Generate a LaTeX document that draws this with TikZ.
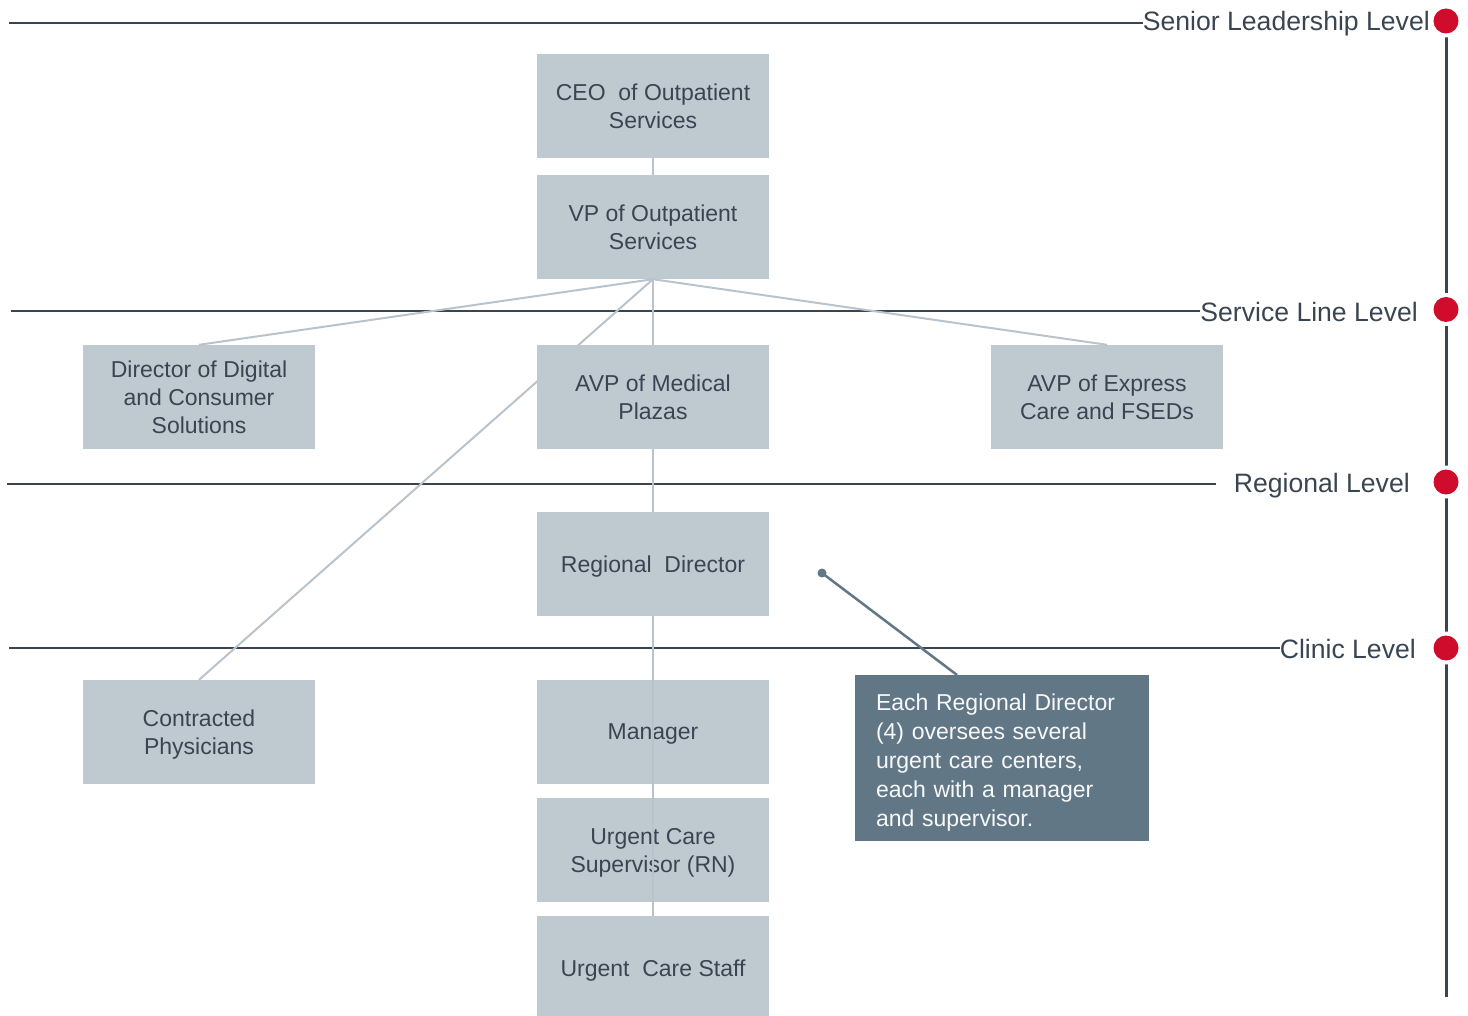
\documentclass[tikz,border=0pt]{standalone}
\usepackage{fontspec}
\setmainfont{Liberation Sans}
\definecolor{boxfill}{HTML}{BFC9D0}
\definecolor{connc}{HTML}{B8C3CC}
\definecolor{txtc}{HTML}{3A4552}
\definecolor{levc}{HTML}{3B4550}
\definecolor{dotred}{HTML}{D00C2C}
\definecolor{callc}{HTML}{627786}
\begin{document}
\begin{tikzpicture}[x=1pt,y=-1pt,
  orgbox/.style={fill=boxfill, draw=none, minimum width=232pt, minimum height=104pt,
    align=center, text=txtc, font=\fontsize{23}{28}\selectfont, inner sep=0pt, text depth=0pt},
  conn/.style={draw=connc, line width=2pt},
  levline/.style={draw=levc, line width=2.2pt},
  levlabel/.style={anchor=base east, inner sep=0pt, text=txtc, font=\fontsize{26.6}{30}\selectfont},
  leveldot/.style={circle, fill=dotred, minimum size=25pt, inner sep=0pt},
  dotgap/.style={circle, fill=white, minimum size=33pt, inner sep=0pt}
]
\useasboundingbox (0,0) rectangle (1468,1016);

% level labels
\node[levlabel] (lab1) at (1430,31) {Senior Leadership Level};
\node[levlabel] (lab2) at (1418,322) {Service Line Level};
\node[levlabel] (lab3) at (1410,492) {Regional Level};
\node[levlabel] (lab4) at (1416,658) {Clinic Level};

% level lines
\coordinate (l1s) at (9,23);
\coordinate (l2s) at (11,311);
\coordinate (l3s) at (7,484);  \coordinate (l3e) at (1216,484);
\coordinate (l4s) at (9,648);
\draw[levline] (l1s) -- (l1s -| lab1.west);
\draw[levline] (l2s) -- (l2s -| lab2.west);
\draw[levline] (l3s) -- (l3e);
\draw[levline] (l4s) -- (l4s -| lab4.west);

% timeline
\coordinate (vtop) at (1446.5,21);
\coordinate (vbot) at (1446.5,997);
\draw[levline] (vtop) -- (vbot);
\foreach \n/\yy in {d1/21, d2/309.5, d3/482, d4/648}{
  \node[dotgap] at (1446,\yy) {};
  \node[leveldot] (\n) at (1446,\yy) {};
}

% box positions (centers)
\coordinate (pceo) at (653,106);
\coordinate (pvp) at (653,227);
\coordinate (pdir) at (199,397);
\coordinate (pavpm) at (653,397);
\coordinate (pavpe) at (1107,397);
\coordinate (prd) at (653,564);
\coordinate (pcon) at (199,732);
\coordinate (pman) at (653,732);
\coordinate (psup) at (653,850);
\coordinate (pstaff) at (653,968);

% connector that runs behind a box
\node[orgbox, opacity=0, text opacity=0] (ghostvp) at (pvp) {};
\node[orgbox, opacity=0, text opacity=0] (ghostcon) at (pcon) {};
\draw[conn] (ghostvp.south) -- (ghostcon.north);

\node[orgbox] (ceo) at (pceo) {CEO\ \ of Outpatient\\Services};
\node[orgbox] (vp) at (pvp) {VP of Outpatient\\Services};
\node[orgbox] (dir) at (pdir) {Director of Digital\\and Consumer\\Solutions};
\node[orgbox] (avpm) at (pavpm) {AVP of Medical\\Plazas};
\node[orgbox] (avpe) at (pavpe) {AVP of Express\\Care and FSEDs};
\node[orgbox] (rd) at (prd) {Regional\ \ Director};
\node[orgbox] (con) at (pcon) {Contracted\\Physicians};
\node[orgbox] (man) at (pman) {Manager};
\node[orgbox] (sup) at (psup) {Urgent Care\\Supervisor (RN)};
\node[orgbox] (staff) at (pstaff) {Urgent\ \ Care Staff};

\draw[conn] (ceo.south) -- (vp.north);
\draw[conn] (vp.south) -- (dir.north);
\draw[conn] (vp.south) -- (avpm.north);
\draw[conn] (vp.south) -- (avpe.north);
\draw[conn] (avpm.south) -- (rd.north);
\draw[conn] (rd.south) -- (staff.north);

% callout
\node[fill=callc, minimum width=294pt, minimum height=166pt, inner xsep=21pt, inner ysep=0pt,
  text width=252pt, align=left, text=white!95!callc, font=\fontsize{23}{29}\selectfont]
  (call) at (1002,758) {\rule{0pt}{25pt}Each Regional Director\\(4) oversees several\\urgent care centers,\\each with a manager\\and supervisor.};
\coordinate (callpt) at (822,573);
\coordinate (calltop) at (957,675);
\fill[callc] (callpt) circle (4.5);
\draw[draw=callc, line width=2.5pt] (callpt) -- (calltop);
\end{tikzpicture}
\end{document}
